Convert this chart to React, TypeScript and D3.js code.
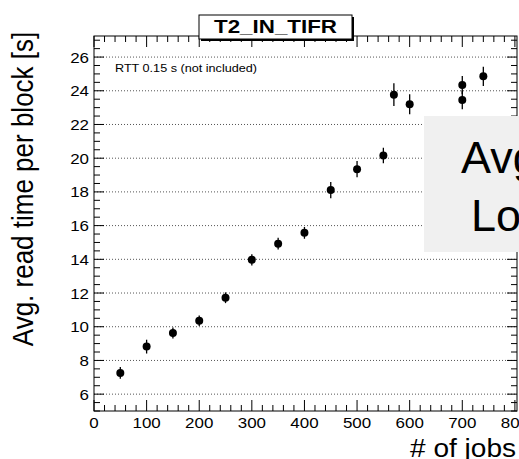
import React from "react";
import * as d3 from "d3";

const jobs = [50, 100, 150, 200, 250, 300, 350, 400, 450, 500, 550, 570, 600, 700, 700, 740];
const readTime = [7.26, 8.82, 9.63, 10.36, 11.72, 13.97, 14.93, 15.57, 18.11, 19.35, 20.16, 23.77, 23.2, 24.34, 23.46, 24.86];
const readErr = [0.35, 0.41, 0.33, 0.31, 0.32, 0.33, 0.35, 0.35, 0.48, 0.48, 0.46, 0.67, 0.59, 0.53, 0.55, 0.57];
const xTicks = [0, 100, 200, 300, 400, 500, 600, 700, 800];
const yTicks = [6, 8, 10, 12, 14, 16, 18, 20, 22, 24, 26];
const title = "T2_IN_TIFR";
const note = "RTT 0.15 s (not included)";
const xLabel = "# of jobs";
const yLabel = "Avg. read time per block [s]";
const overlayLines = ["Avg", "Lo"];

const W = 519, H = 459;
const L = 94, R = 517, T = 36, B = 411;
const FONT = "'Liberation Sans', Arial, Helvetica, sans-serif";
const SX = 1.13;

export default function App() {
  const x = d3.scaleLinear().domain([0, 804]).range([L, R]);
  const y = d3.scaleLinear().domain([5, 27.25]).range([B, T]);
  const xMinor = d3.range(0, 805, 20);
  const yMinor = d3.range(5, 27.01, 0.5);
  const majLen = 10, minLen = 6;

  return (
    <svg width={W} height={H} style={{ position: "absolute", left: 0, top: 0, background: "#fff" }}>
      <rect x={0} y={0} width={W} height={H} fill="#fff" />
      {yTicks.map((t) => (
        <line key={"g" + t} x1={L} x2={R} y1={y(t)} y2={y(t)} stroke="#555" strokeWidth={1} strokeDasharray="1,2" />
      ))}
      {xMinor.map((t) => {
        const major = t % 100 === 0;
        const len = major ? 11 : minLen;
        return (
          <g key={"xt" + t}>
            <line x1={x(t)} x2={x(t)} y1={B} y2={B - len} stroke="#000" />
            <line x1={x(t)} x2={x(t)} y1={T} y2={T + len} stroke="#000" />
          </g>
        );
      })}
      {yMinor.map((t) => {
        const major = Math.abs(t % 2) < 1e-6 && t >= 6;
        const len = major ? majLen : minLen;
        return (
          <g key={"yt" + t}>
            <line x1={L} x2={L + len} y1={y(t)} y2={y(t)} stroke="#000" />
            <line x1={R} x2={R - len} y1={y(t)} y2={y(t)} stroke="#000" />
          </g>
        );
      })}
      <rect x={L} y={T} width={R - L} height={B - T} fill="none" stroke="#000" strokeWidth={1} />
      {xTicks.map((t) => (
        <text key={"xl" + t} transform={`translate(${x(t)},428) scale(${SX},1)`} textAnchor="middle"
          fontFamily={FONT} fontSize={15} fill="#000">{t}</text>
      ))}
      {yTicks.map((t) => (
        <text key={"yl" + t} transform={`translate(89,${y(t) + 5.5}) scale(${SX},1)`} textAnchor="end"
          fontFamily={FONT} fontSize={15} fill="#000">{t}</text>
      ))}
      <text transform={`translate(33,189) scale(${SX},1) rotate(-90)`} textAnchor="middle"
        fontFamily={FONT} fontSize={26} fill="#000">{yLabel}</text>
      <text x={516} y={457} textAnchor="end" fontFamily={FONT} fontSize={26} fill="#000"
        textLength={106} lengthAdjust="spacingAndGlyphs">{xLabel}</text>
      <text x={115} y={72} fontFamily={FONT} fontSize={11} fill="#000" textLength={142}
        lengthAdjust="spacingAndGlyphs">{note}</text>
      {jobs.map((j, i) => (
        <g key={"p" + i}>
          <line x1={x(j)} x2={x(j)} y1={y(readTime[i] - readErr[i])} y2={y(readTime[i] + readErr[i])}
            stroke="#000" strokeWidth={1.3} />
          <circle cx={x(j)} cy={y(readTime[i])} r={4} fill="#000" />
        </g>
      ))}
      <rect x={201} y={17} width={153} height={24} fill="#000" />
      <rect x={199} y={15} width={153} height={24} fill="#fff" stroke="#000" strokeWidth={1} />
      <text x={275.5} y={33} textAnchor="middle" fontFamily={FONT} fontWeight="bold" fontSize={18}
        fill="#000" textLength={123} lengthAdjust="spacingAndGlyphs">{title}</text>
      <rect x={424} y={116} width={W - 424} height={136} fill="#f0f0f0" />
      <text x={461} y={173} fontFamily={FONT} fontSize={45} fill="#000">{overlayLines[0]}</text>
      <text x={471} y={231} fontFamily={FONT} fontSize={45} fill="#000">{overlayLines[1]}</text>
    </svg>
  );
}
